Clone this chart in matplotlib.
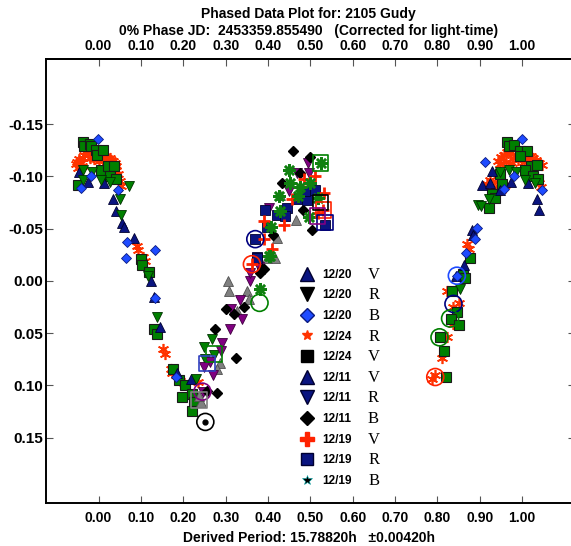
import matplotlib
matplotlib.use("Agg")
import matplotlib.pyplot as plt
from matplotlib.lines import Line2D

plt.rcParams['font.family'] = ['Liberation Sans', 'DejaVu Sans']
plt.rcParams['font.weight'] = 'bold'
plt.rcParams['axes.unicode_minus'] = False

# ---- data (phase, reduced magnitude) ----
green_sq_ph = [-0.038, -0.035, -0.021, -0.017, -0.007, -0.003, 0.011, 0.006, 0.022, 0.036, 0.026, 0.040, -0.048,
               0.099, 0.103, 0.119, 0.130, 0.139, 0.176, 0.189, 0.205, 0.221, 0.225, 0.221, 0.196,
               0.964, 0.968, 0.981, 0.995, 1.011, 0.995, 1.021, 1.035, 1.007, 0.948, 1.025, 1.038, 0.952, 0.928,
               0.936, 0.922, 0.876, 0.860, 0.866, 0.834, 0.846, 0.832, 0.850, 0.807, 0.816, 0.821]
green_sq_mag = [-0.133, -0.129, -0.131, -0.129, -0.125, -0.121, -0.125, -0.106, -0.110, -0.110, -0.100, -0.098, -0.092,
                -0.021, -0.015, -0.009, 0.046, 0.051, 0.084, 0.095, 0.100, 0.108, 0.116, 0.125, 0.111,
                -0.133, -0.129, -0.130, -0.124, -0.124, -0.120, -0.110, -0.111, -0.106, -0.102, -0.100, -0.098, -0.093,
                -0.083, -0.079, -0.070, -0.022, -0.007, -0.003, 0.010, 0.030, 0.036, 0.042, 0.054, 0.067, 0.092]

red_ast_ph = [-0.054, -0.050, -0.046, -0.042, -0.038, -0.034, -0.030, -0.026, -0.022, -0.018, -0.014, -0.010,
              -0.006, -0.002, 0.002, 0.006, 0.010, 0.014, 0.018, 0.022, 0.026, 0.030, 0.034, 0.038, 0.042,
              0.046, 0.050, -0.048, -0.040, -0.020, 0.000, 0.020, 0.040, 0.052,
              0.091, 0.094, 0.106, 0.109, 0.153, 0.157, 0.170, 0.174, 0.201, 0.234,
              0.943, 0.950, 0.957, 0.964, 0.971, 0.978, 0.985, 0.992, 0.999, 1.006, 1.013, 1.020, 1.027,
              1.034, 1.041, 1.047, 0.948, 0.962, 0.976, 0.990, 1.004, 1.018, 1.032,
              0.917, 0.925, 0.933, 0.941, 0.951, 0.960, 1.036, 1.044, 1.040,
              0.870, 0.874, 0.822, 0.850, 0.838, 0.838, 0.822, 0.810, 0.795, 0.787]
red_ast_mag = [-0.112, -0.114, -0.117, -0.113, -0.118, -0.121, -0.124, -0.122, -0.125, -0.123, -0.119, -0.117,
               -0.120, -0.118, -0.119, -0.120, -0.117, -0.119, -0.118, -0.116, -0.118, -0.116, -0.115, -0.113,
               -0.110, -0.102, -0.096, -0.108, -0.110, -0.118, -0.115, -0.114, -0.106, -0.091,
               -0.033, -0.030, -0.023, -0.019, 0.065, 0.070, 0.084, 0.088, 0.098, 0.097,
               -0.115, -0.119, -0.121, -0.123, -0.122, -0.118, -0.120, -0.124, -0.121, -0.119, -0.117, -0.120, -0.118,
               -0.116, -0.113, -0.111, -0.112, -0.114, -0.113, -0.116, -0.114, -0.113, -0.115,
               -0.093, -0.097, -0.090, -0.095, -0.087, -0.092, -0.097, -0.090, -0.094,
               -0.035, -0.031, 0.010, 0.021, 0.025, 0.041, 0.054, 0.074, 0.090, 0.094]

navy_up_ph = [-0.046, -0.025, 0.013, 0.035, 0.040, 0.056, 0.061, 0.083, 0.123, 0.130, 0.146, 0.186, 0.217,
              0.928, 0.905, 0.925, 0.974, 1.013, 1.035, 1.039, 0.948, 0.881, 0.885, 0.864, 0.844]
navy_up_mag = [-0.104, -0.095, -0.094, -0.078, -0.067, -0.055, -0.052, -0.041, 0.000, 0.015, 0.044, 0.088, 0.094,
               -0.105, -0.092, -0.094, -0.095, -0.094, -0.078, -0.068, -0.087, -0.049, -0.044, -0.015, -0.005]

green_dn_ph = [-0.036, -0.038, -0.015, 0.005, 0.028, 0.050, 0.054, 0.072, 0.117, 0.138, 0.229,
               0.268, 0.248, 0.272, 0.252,
               0.948, 0.968, 0.986, 1.007, 1.031, 0.921, 0.897, 0.903, 0.854]
green_dn_mag = [-0.106, -0.097, -0.104, -0.097, -0.095, -0.078, -0.063, -0.091, -0.005, 0.035, 0.094,
                0.056, 0.063, 0.071, 0.075,
                -0.104, -0.106, -0.104, -0.097, -0.094, -0.078, -0.073, -0.072, 0.008]

blue_dia_ph = [-0.042, -0.001, -0.019, 0.046, 0.068, 0.065, 0.132, 0.134, 0.182,
               0.999, 0.913, 0.981, 1.046, 0.958, 0.893, 0.889, 0.868, 0.846]
blue_dia_mag = [-0.089, -0.136, -0.100, -0.087, -0.037, -0.022, -0.030, 0.016, 0.092,
                -0.136, -0.114, -0.100, -0.087, -0.088, -0.051, -0.040, -0.027, -0.005]

grey_up_ph = [0.305, 0.309, 0.351, 0.355, 0.327, 0.286, 0.280, 0.241, 0.237, 0.428, 0.467, 0.421, 0.417, 0.397]
grey_up_mag = [0.000, 0.0095, 0.0095, 0.017, 0.029, 0.079, 0.084, 0.116, 0.110, -0.082, -0.058, -0.041, -0.022, -0.022]

purple_dn_ph = [0.333, 0.313, 0.339, 0.311, 0.292, 0.288, 0.264, 0.270, 0.248, 0.358, 0.378, 0.247,
                0.494, 0.469, 0.496, 0.449, 0.402, 0.358]
purple_dn_mag = [0.018, 0.027, 0.036, 0.046, 0.059, 0.067, 0.078, 0.090, 0.082, 0.000, -0.013, 0.106,
                 -0.113, -0.103, -0.103, -0.086, -0.070, -0.008]

black_dia_ph = [0.300, 0.319, 0.343, 0.276, 0.325, 0.280, 0.256, 0.390, 0.380,
                0.459, 0.500, 0.476, 0.433, 0.483, 0.504, 0.413, 0.386]
black_dia_mag = [0.027, 0.032, 0.025, 0.046, 0.074, 0.107, 0.105, -0.011, -0.008,
                 -0.124, -0.119, -0.103, -0.094, -0.068, -0.049, -0.044, -0.011]

# lone dot inside the black ring at minimum
black_dot_ph = [0.252]
black_dot_mag = [0.135]

navy_sq_ph = [0.394, 0.445, 0.421, 0.441, 0.469, 0.492, 0.488, 0.512, 0.398, 0.370, 0.374, 0.535, 0.373]
navy_sq_mag = [-0.068, -0.070, -0.063, -0.062, -0.078, -0.077, -0.086, -0.087, -0.052, -0.040, -0.023, -0.054, -0.022]

red_plus_ph = [0.512, 0.484, 0.533, 0.457, 0.437, 0.390, 0.390, 0.410, 0.362, 0.531, 0.518]
red_plus_mag = [-0.100, -0.098, -0.084, -0.078, -0.054, -0.057, -0.040, -0.031, -0.016, -0.068, -0.065]

green_ast_ph = [0.449, 0.453, 0.476, 0.500, 0.425, 0.472, 0.519, 0.429, 0.496, 0.406, 0.404, 0.524, 0.382, 0.402]
green_ast_mag = [-0.106, -0.094, -0.090, -0.094, -0.081, -0.081, -0.079, -0.067, -0.061, -0.052, -0.024, -0.113,
                 0.008, -0.024]

# highlighted points (open rings / open boxes)
ring_ph = [0.362, 0.380, 0.245, 0.252, 0.370, 0.846, 0.838, 0.830, 0.805, 0.795]
ring_mag = [-0.016, 0.021, 0.106, 0.135, -0.040, -0.005, 0.022, 0.036, 0.054, 0.092]
ring_col = ['#ff2200', '#008000', '#800080', 'black', '#000080', '#1e4bff', '#000080', '#008000', '#008000', '#ff2200']
box_ph = [0.272, 0.256, 0.237, 0.524, 0.531, 0.524, 0.535, 0.517]
box_mag = [0.070, 0.079, 0.114, -0.113, -0.068, -0.075, -0.056, -0.062]
box_col = ['#008000', '#3040c0', '#808080', '#008000', '#ff2200', 'black', '#000080', '#800080']

leg_dates = ['12/20', '12/20', '12/20', '12/24', '12/24', '12/11', '12/11', '12/11', '12/19', '12/19', '12/19']
leg_bands = ['V', 'R', 'B', 'R', 'V', 'V', 'R', 'B', 'V', 'R', 'B']

phase_ticks = [i / 10 for i in range(11)]
mag_ticks = [-0.15, -0.10, -0.05, 0.00, 0.05, 0.10, 0.15]

fig = plt.figure(figsize=(5.71, 5.46), dpi=100)
ax = fig.add_axes([0.080, 0.079, 0.927, 0.813])

ax.plot(red_ast_ph, red_ast_mag, ls='none', marker=(6, 2, 0), ms=8, mew=1.2, color='#ff3300')
ax.plot(green_sq_ph, green_sq_mag, ls='none', marker='s', ms=7, mfc='#008000', mec='#1a1a1a', mew=0.8)
ax.plot(navy_up_ph, navy_up_mag, ls='none', marker='^', ms=7.5, mfc='#0a1480', mec='#000030', mew=0.6)
ax.plot(green_dn_ph, green_dn_mag, ls='none', marker='v', ms=7.5, mfc='#008000', mec='#003000', mew=0.6)
ax.plot(blue_dia_ph, blue_dia_mag, ls='none', marker='D', ms=5.5, mfc='#1e4bff', mec='#0a1a80', mew=0.6)
ax.plot(grey_up_ph, grey_up_mag, ls='none', marker='^', ms=7, mfc='#808080', mec='#505050', mew=0.6)
ax.plot(purple_dn_ph, purple_dn_mag, ls='none', marker='v', ms=7, mfc='#800080', mec='#400040', mew=0.6)
ax.plot(black_dia_ph, black_dia_mag, ls='none', marker='D', ms=5, mfc='black', mec='black')
ax.plot(black_dot_ph, black_dot_mag, ls='none', marker='o', ms=3.5, mfc='black', mec='black')
ax.plot(navy_sq_ph, navy_sq_mag, ls='none', marker='s', ms=7, mfc='#0a1480', mec='#000030', mew=0.6)
ax.plot(red_plus_ph, red_plus_mag, ls='none', marker='+', ms=8, mew=2, color='#ff2200')
ax.plot(green_ast_ph, green_ast_mag, ls='none', marker=(8, 2, 0), ms=9, mew=1.8, color='#108010')
ax.scatter(ring_ph, ring_mag, s=150, facecolors='none', edgecolors=ring_col, linewidths=1.2, zorder=4)
ax.scatter(box_ph, box_mag, s=130, marker='s', facecolors='none', edgecolors=box_col, linewidths=1.2, zorder=4)

ax.set_xlim(-0.125, 1.125)
ax.set_ylim(0.2125, -0.2125)
ax.set_xticks(phase_ticks)
ax.set_yticks(mag_ticks)
ax.xaxis.set_major_formatter(plt.FormatStrFormatter('%.2f'))
ax.yaxis.set_major_formatter(plt.FormatStrFormatter('%.2f'))
ax.tick_params(axis='x', direction='in', length=5, width=0.8, color='#555555', top=False,
               labelsize=10, pad=6)
ax.tick_params(axis='y', direction='in', length=5, width=0.8, color='#555555', right=True, labelsize=11, pad=2)
for s in ax.spines.values():
    s.set_linewidth(1.4)

top = ax.secondary_xaxis('top')
top.set_xticks(phase_ticks)
top.xaxis.set_major_formatter(plt.FormatStrFormatter('%.2f'))
top.tick_params(direction='in', length=5, width=0.8, color='#555555', labelsize=10, pad=4)
top.spines['top'].set_linewidth(1.4)

handles = [
    Line2D([], [], ls='none', marker='^', ms=10, mfc='#0a1480', mec='#000030'),
    Line2D([], [], ls='none', marker='v', ms=10, mfc='black', mec='black'),
    Line2D([], [], ls='none', marker='D', ms=7.5, mfc='#1e4bff', mec='#0a1a80'),
    Line2D([], [], ls='none', marker='*', ms=7, mfc='#ff3300', mec='#ff3300'),
    Line2D([], [], ls='none', marker='s', ms=9, mfc='black', mec='black'),
    Line2D([], [], ls='none', marker='^', ms=10, mfc='#0a1480', mec='#000030'),
    Line2D([], [], ls='none', marker='v', ms=10, mfc='#0a1480', mec='#000030'),
    Line2D([], [], ls='none', marker='D', ms=7.5, mfc='black', mec='black'),
    Line2D([], [], ls='none', marker='P', ms=10, mfc='#ff2200', mec='#ff2200'),
    Line2D([], [], ls='none', marker='s', ms=9, mfc='#0a1480', mec='#000030'),
    Line2D([], [], ls='none', marker='*', ms=7, mfc='black', mec='#00aaaa', mew=0.4),
]
leg = ax.legend(handles, leg_dates, loc='upper left', bbox_to_anchor=(0.482, 0.5275), frameon=False,
                borderpad=0, borderaxespad=0, handlelength=1.0, handletextpad=0.8, labelspacing=0.73,
                prop={'family': 'Liberation Sans', 'weight': 'bold', 'size': 8.5})
for txt, band in zip(leg.get_texts(), leg_bands):
    ax.annotate(band, xy=(1, 0.5), xycoords=txt, xytext=(12, 0), textcoords='offset points',
                va='center', ha='left', family='Liberation Serif', weight='normal', fontsize=12, zorder=6)

fig.text(0.540, 0.974, 'Phased Data Plot for: 2105 Gudy', ha='center', va='center', fontsize=10)
fig.text(0.540, 0.943, '0% Phase JD:  2453359.855490   (Corrected for light-time)', ha='center', va='center',
         fontsize=10)
fig.text(0.541, 0.015, 'Derived Period: 15.78820h   \u00b10.00420h', ha='center', va='center', fontsize=10)

fig.canvas.draw()
fig.savefig('out.png', dpi=100)
